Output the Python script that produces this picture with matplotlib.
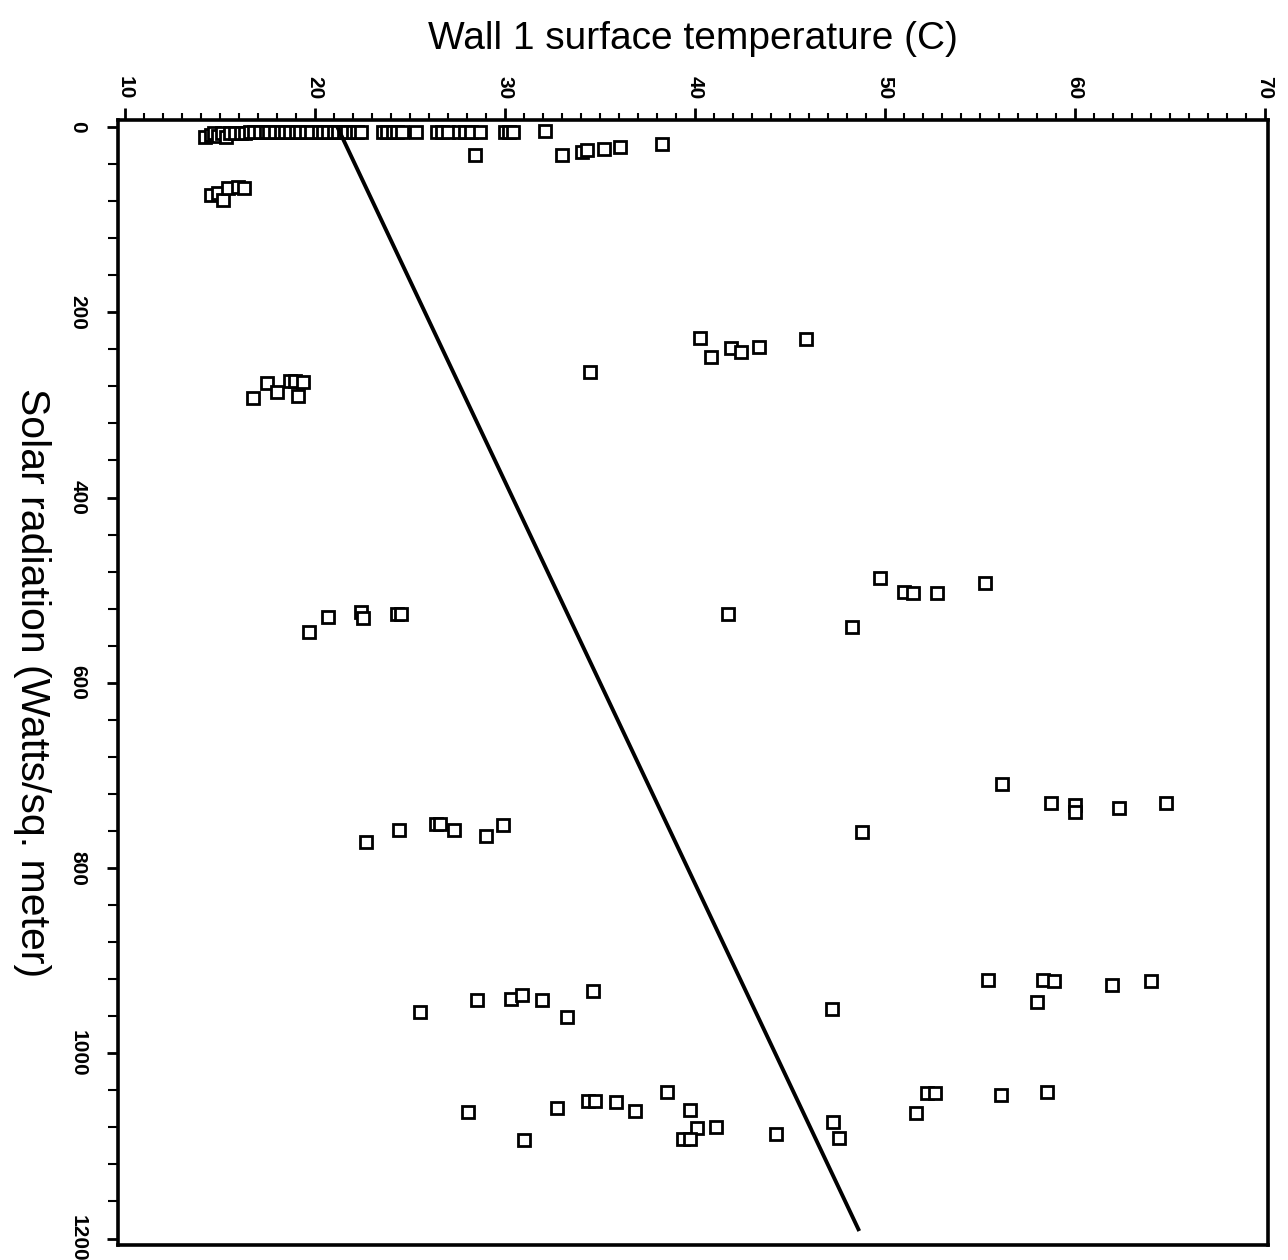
import matplotlib
matplotlib.use("Agg")
import matplotlib.pyplot as plt
from matplotlib import font_manager
from matplotlib.ticker import MultipleLocator

plt.rcParams['font.family'] = ['Liberation Sans', 'DejaVu Sans']

# narrow face for the tick numbers, if it is there
installed = {f.name for f in font_manager.fontManager.ttflist}
tick_family = 'Liberation Sans Narrow' if 'Liberation Sans Narrow' in installed else 'Liberation Sans'
tick_size = 18 if tick_family == 'Liberation Sans Narrow' else 15

# wall 1 surface temperature (C) vs solar radiation (W/m2)
temp_top_row = [14.2, 14.5, 14.7, 14.9, 15.1, 15.3, 15.5, 15.8, 16.1, 16.3, 16.6, 16.8,
                17.1, 17.4, 17.6, 17.9, 18.2, 18.4, 18.7, 19.0, 19.2, 19.5, 19.8, 20.2,
                20.4, 20.7, 21.0, 21.2, 21.5, 21.7, 22.0, 22.2, 22.4, 23.6, 23.8, 24.1,
                24.3, 24.6, 25.3, 26.4, 26.7, 27.0, 27.6, 27.9, 28.2, 28.7, 30.0, 30.2,
                30.4, 32.1]
rad_top_row = [11, 9, 7, 10, 6, 11, 7, 6, 7, 6, 5, 5,
               5, 5, 5, 5, 5, 5, 5, 5, 5, 5, 5, 5,
               5, 5, 5, 5, 5, 5, 5, 5, 5, 5, 5, 5,
               5, 5, 5, 5, 5, 5, 5, 5, 5, 5, 5, 5,
               5, 4]

temp_low = [28.4, 33.0, 34.05, 34.3, 35.2, 36.05, 38.25,
            14.5, 14.9, 15.15, 15.4, 15.95, 16.25,
            40.25, 40.85, 41.9, 42.4, 43.35, 45.85, 34.45,
            16.75, 17.45, 18.0, 18.7, 18.95, 19.35, 19.1,
            41.75, 48.25, 49.75, 51.0, 51.45, 52.75, 55.25,
            19.7, 20.7, 22.4, 22.55, 24.3, 24.5,
            56.15, 58.75, 60.0, 60.0, 62.3, 64.8, 48.8,
            22.7, 24.4, 26.35, 26.6, 27.3, 29.0, 29.9,
            25.55, 28.5, 30.3, 30.9, 31.95, 33.25, 34.65,
            47.2, 55.4, 58.3, 58.9, 58.0, 61.95, 64.0,
            28.05, 31.0, 32.75, 34.35, 34.75, 35.85, 36.85, 38.5, 39.75, 40.1,
            41.1, 39.35, 39.75, 44.25, 47.25, 47.6, 51.65, 52.2, 52.65, 56.1, 58.55]
rad_low = [30, 30, 27, 25, 24, 22, 18,
           73, 71, 79, 66, 65, 66,
           228, 248, 239, 243, 238, 229, 265,
           293, 276, 286, 274, 274, 275, 290,
           526, 540, 487, 502, 503, 503, 492,
           545, 529, 524, 530, 526, 526,
           709, 730, 732, 740, 735, 730, 761,
           772, 759, 752, 752, 759, 765, 754,
           955, 943, 941, 937, 943, 961, 933,
           952, 921, 921, 922, 945, 926, 922,
           1063, 1094, 1059, 1051, 1051, 1053, 1062, 1042, 1061, 1081,
           1080, 1093, 1093, 1087, 1074, 1091, 1065, 1043, 1043, 1045, 1042]

# fitted line end points
fit_rad = [1, 1190]
fit_temp = [21.2, 48.6]

temps = temp_top_row + temp_low
rads = rad_top_row + rad_low

fig = plt.figure(figsize=(12.88, 12.6), dpi=100)
ax = fig.add_axes([0.0916, 0.0119, 0.8929, 0.8929])

ax.plot(temps, rads, linestyle='none', marker='s', markersize=8.2,
        markerfacecolor='white', markeredgecolor='black', markeredgewidth=2.0)
ax.plot(fit_temp, fit_rad, color='black', linewidth=2.8)

ax.set_xlim(9.63, 70.16)
ax.set_ylim(1207, -7.6)

ax.xaxis.tick_top()
ax.xaxis.set_label_position('top')
ax.xaxis.set_major_locator(MultipleLocator(10))
ax.xaxis.set_minor_locator(MultipleLocator(1))
ax.yaxis.set_major_locator(MultipleLocator(200))
ax.yaxis.set_minor_locator(MultipleLocator(40))

ax.tick_params(axis='x', which='major', direction='out', length=9, width=2, pad=6,
               labelsize=tick_size, labelrotation=-90)
ax.tick_params(axis='x', which='minor', direction='out', length=5, width=1.5)
ax.tick_params(axis='y', which='major', direction='out', length=8, width=2, pad=14,
               labelsize=tick_size, labelrotation=-90)
ax.tick_params(axis='y', which='minor', direction='out', length=7, width=1.5)
for lab in ax.get_xticklabels() + ax.get_yticklabels():
    lab.set_fontweight('bold')
    lab.set_family([tick_family, 'DejaVu Sans'])
for lab in ax.get_yticklabels():
    lab.set_verticalalignment('center')

for sp in ax.spines.values():
    sp.set_linewidth(2.6)

ax.set_xlabel('Wall 1 surface temperature (C)', fontsize=28, labelpad=19)
ax.set_ylabel('Solar radiation (Watts/sq. meter)', fontsize=29.5, rotation=-90,
              labelpad=40, va='bottom')

fig.savefig('out.png', dpi=100)
